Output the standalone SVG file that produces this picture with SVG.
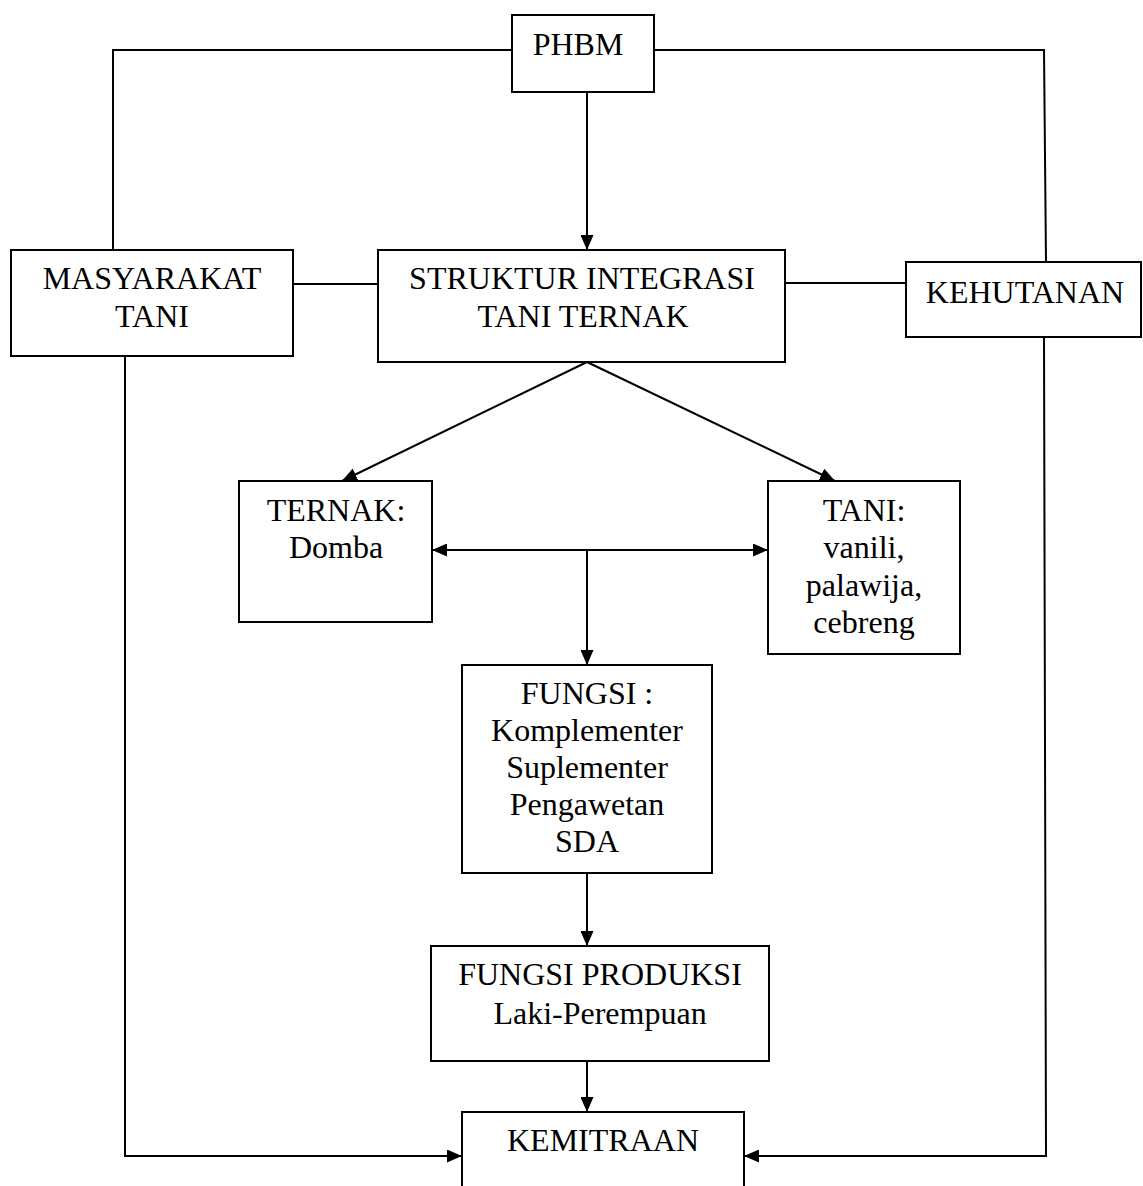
<svg xmlns="http://www.w3.org/2000/svg" width="1143" height="1186" viewBox="0 0 1143 1186">
<style>
.box{fill:#fff;stroke:#000;stroke-width:2}
.ln{fill:none;stroke:#000;stroke-width:2}
.ar{marker-end:url(#ah)}
text{font-family:"Liberation Serif","Times New Roman",serif;font-size:32px;fill:#000;text-anchor:middle}
</style>
<defs>
<marker id="ah" markerUnits="userSpaceOnUse" markerWidth="16" markerHeight="13" refX="15" refY="6.5" orient="auto">
<path d="M0,0 L15,6.5 L0,13 z" fill="#000"/>
</marker>
<marker id="ahs" markerUnits="userSpaceOnUse" markerWidth="16" markerHeight="13" refX="0" refY="6.5" orient="auto">
<path d="M15,0 L0,6.5 L15,13 z" fill="#000"/>
</marker>
</defs>
<g id="connectors">
<polyline class="ln" points="512,50 113,50 113,250"/>
<polyline class="ln" points="654,50 1044,50 1046,262"/>
<line class="ln ar" x1="587" y1="92" x2="587" y2="250"/>
<line class="ln" x1="293" y1="284" x2="378" y2="284"/>
<line class="ln" x1="785" y1="283" x2="906" y2="283"/>
<line class="ln ar" x1="587" y1="362" x2="342" y2="481"/>
<line class="ln ar" x1="587" y1="362" x2="835" y2="481"/>
<line class="ln ar" x1="432" y1="550" x2="768" y2="550" marker-start="url(#ahs)"/>
<line class="ln ar" x1="587" y1="550" x2="587" y2="665"/>
<line class="ln ar" x1="587" y1="873" x2="587" y2="946"/>
<line class="ln ar" x1="587" y1="1061" x2="587" y2="1112"/>
<polyline class="ln ar" points="125,356 125,1156 462,1156"/>
<polyline class="ln ar" points="1044,337 1046,1156 744,1156"/>
</g>
<g id="phbm">
<rect class="box" x="512" y="15" width="142" height="77"/>
<text x="578" y="55">PHBM</text>
</g>
<g id="masyarakat">
<rect class="box" x="11" y="250" width="282" height="106"/>
<text x="152" y="289">MASYARAKAT</text>
<text x="152" y="327">TANI</text>
</g>
<g id="struktur">
<rect class="box" x="378" y="250" width="407" height="112"/>
<text x="582" y="289">STRUKTUR INTEGRASI</text>
<text x="583" y="327">TANI TERNAK</text>
</g>
<g id="kehutanan">
<rect class="box" x="906" y="262" width="235" height="75"/>
<text x="1025" y="303">KEHUTANAN</text>
</g>
<g id="ternak">
<rect class="box" x="239" y="481" width="193" height="141"/>
<text x="336" y="521">TERNAK:</text>
<text x="336" y="558">Domba</text>
</g>
<g id="tani">
<rect class="box" x="768" y="481" width="192" height="173"/>
<text x="864" y="521">TANI:</text>
<text x="864" y="558">vanili,</text>
<text x="864" y="596">palawija,</text>
<text x="864" y="633">cebreng</text>
</g>
<g id="fungsi">
<rect class="box" x="462" y="665" width="250" height="208"/>
<text x="587" y="704">FUNGSI :</text>
<text x="587" y="741">Komplementer</text>
<text x="587" y="778">Suplementer</text>
<text x="587" y="815">Pengawetan</text>
<text x="587" y="852">SDA</text>
</g>
<g id="fungsi-produksi">
<rect class="box" x="431" y="946" width="338" height="115"/>
<text x="600" y="985">FUNGSI PRODUKSI</text>
<text x="600" y="1024">Laki-Perempuan</text>
</g>
<g id="kemitraan">
<rect class="box" x="462" y="1112" width="282" height="100"/>
<text x="603" y="1151">KEMITRAAN</text>
</g>
</svg>
